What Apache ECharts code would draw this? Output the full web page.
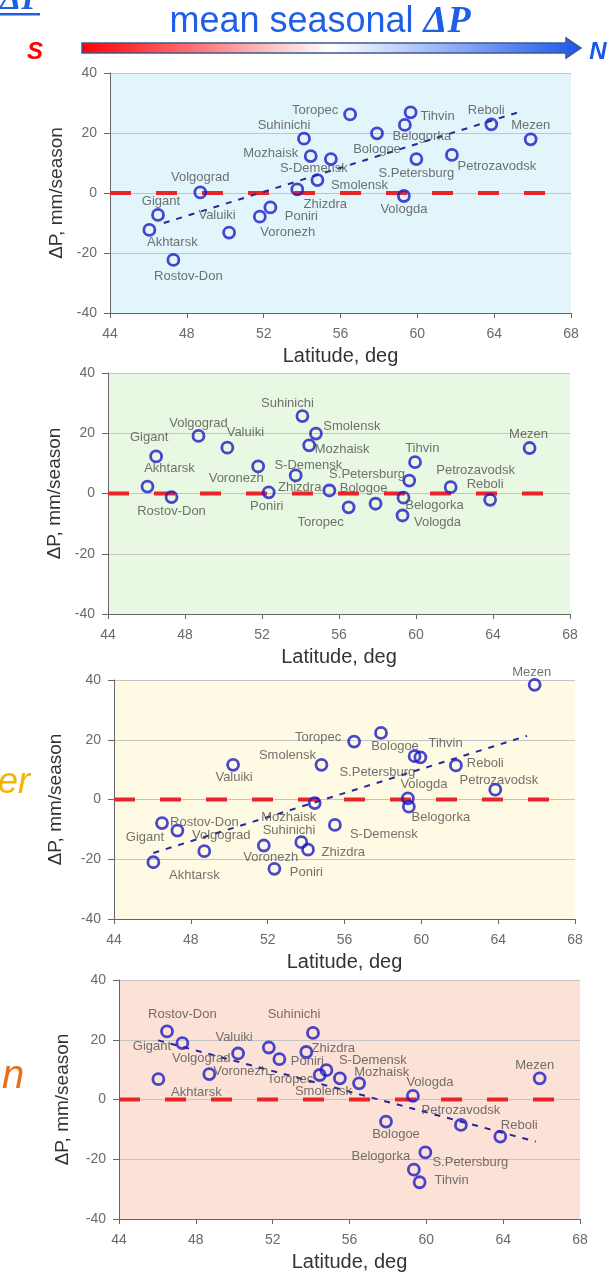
<!DOCTYPE html>
<html><head><meta charset="utf-8">
<script src="https://cdn.jsdelivr.net/npm/echarts@6/dist/echarts.min.js"></script>
<style>html,body{margin:0;padding:0;background:#fff}#c{width:612px;height:1274px}</style>
</head><body><div id="c"></div>
<script>
// ---- data ----
const stations = ['Akhtarsk','Gigant','Rostov-Don','Volgograd','Valuiki','Voronezh','Poniri','Zhizdra','Suhinichi','Mozhaisk','Smolensk','S-Demensk','Toropec','Bologoe','Vologda','Belogorka','Tihvin','S.Petersburg','Petrozavodsk','Reboli','Mezen'];
const latitude = [46.05,46.5,47.3,48.7,50.2,51.8,52.35,53.75,54.1,54.45,54.8,55.5,56.5,57.9,59.3,59.35,59.65,59.95,61.8,63.85,65.9];
const dpPanel1 = [-12.3,-7.3,-22.3,0.2,-13.2,-7.9,-4.8,1.2,18.1,12.3,4.3,11.3,26.2,19.9,-1.0,22.7,26.9,11.3,12.7,22.9,17.9];
const dpPanel2 = [2.3,12.3,-1.2,19.1,15.2,9.0,0.4,6.0,25.7,16.0,19.9,1.0,-4.6,-3.4,-7.3,-1.4,4.3,10.4,2.1,-2.1,15.1];
const dpPanel3 = [-21.0,-7.9,-10.4,-17.3,11.6,-15.4,-23.2,-14.3,-16.8,-1.2,11.6,-8.5,19.4,22.3,0.4,-2.4,14.5,14.1,11.4,3.3,38.4];
const dpPanel4 = [6.8,22.8,18.9,8.5,15.4,17.4,13.5,15.9,22.3,8.2,9.8,7.1,5.4,-7.4,1.2,-23.5,-27.7,-17.7,-8.5,-12.4,7.1];
const trend1 = [[46.8,-10.0],[65.35,27.1]];
const trend3 = [[46.05,-17.9],[65.5,21.3]];
const trend4 = [[46.04,19.8],[65.7,-14.1]];
const zeroLine = [[44,0],[67.6,0]];
const xTicks = {min:44, max:68, step:4};
const yTicks = {min:-40, max:40, step:20};

// ---- label placement (style only) ----
const labelOffsets = [
  [[23,13],[3,-13],[15,17],[0,-15],[-12,-17],[28,16],[31,9],[28,15],[-20,-13],[-40,-3],[42,5],[-17,9],[-35,-4],[0,16],[0,13],[17,12],[27,4],[0,14],[45,12],[-5,-14],[0,-14]],
  [[22,-18],[-7,-19],[0,14],[0,-13],[18,-15],[-22,12],[-2,14],[4,12],[-15,-13],[33,4],[36,-7],[-21,-25],[-28,15],[-12,-15],[35,7],[31,8],[13,-32],[-48,12],[25,-17],[-5,-15],[-1,-14]],
  [[41,13],[-17,14],[27,-8],[17,-16],[1,13],[7,12],[32,4],[42,10],[-19,-19],[-26,14],[-34,-9],[49,10],[-36,-4],[14,14],[16,-14],[32,11],[31,-13],[-43,15],[43,15],[-10,-26],[-3,-12]],
  [[38,13],[-15,15],[0,-29],[-8,-16],[-4,-16],[-28,24],[28,2],[27,-4],[-19,-18],[62,-3],[-3,21],[33,-18],[-69,-4],[10,13],[17,-13],[-33,-13],[32,-2],[45,10],[0,-14],[19,-11],[-5,-13]]
];
const panels = [
  {vals: dpPanel1, trend: trend1, bg:'#e2f5fb', grid:{left:110,right:41,top:73,height:240}, yGap:42},
  {vals: dpPanel2, trend: null,   bg:'#e9f8e2', grid:{left:108,right:42,top:373,height:241}, yGap:42},
  {vals: dpPanel3, trend: trend3, bg:'#fefae3', grid:{left:114,right:37,top:680,height:239}, yGap:49},
  {vals: dpPanel4, trend: trend4, bg:'#fce2d6', grid:{left:119,right:32,top:980,height:239}, yGap:47}
];

const FF = '"Liberation Sans", Arial, sans-serif';
const grids = [], xAxes = [], yAxes = [], series = [];
panels.forEach((p, i) => {
  grids.push(Object.assign({show:true, backgroundColor:p.bg, borderWidth:0}, p.grid));
  xAxes.push({
    gridIndex:i, type:'value', min:xTicks.min, max:xTicks.max, interval:xTicks.step,
    axisLine:{show:true, onZero:false, lineStyle:{color:'#666', width:1}},
    axisTick:{show:true, length:5, lineStyle:{color:'#666'}},
    axisLabel:{color:'#6a6a6a', fontSize:14, margin:14, fontFamily:FF},
    splitLine:{show:false},
    name:'Latitude, deg', nameLocation:'middle', nameGap:33,
    nameTextStyle:{fontSize:20, color:'#333', fontFamily:FF}
  });
  yAxes.push({
    gridIndex:i, type:'value', min:yTicks.min, max:yTicks.max, interval:yTicks.step,
    axisLine:{show:true, lineStyle:{color:'#666', width:1}},
    axisTick:{show:true, length:6, lineStyle:{color:'#666'}},
    axisLabel:{color:'#6a6a6a', fontSize:14, margin:13, fontFamily:FF},
    splitLine:{show:true, lineStyle:{color:'#c4c4c4', width:1}},
    name:'ΔP, mm/season', nameLocation:'middle', nameGap:p.yGap,
    nameTextStyle:{fontSize:19, color:'#333', fontFamily:FF}
  });
  series.push({
    type:'line', xAxisIndex:i, yAxisIndex:i, data:zeroLine, symbol:'none', silent:true,
    lineStyle:{color:'#e8262a', width:4, type:[21,25]}, z:2
  });
  if (p.trend) {
    series.push({
      type:'line', xAxisIndex:i, yAxisIndex:i, data:p.trend, symbol:'none', silent:true,
      lineStyle:{color:'#28289a', width:2, type:[6,7]}, z:3
    });
  }
  series.push({
    type:'scatter', xAxisIndex:i, yAxisIndex:i, symbol:'circle', symbolSize:11, z:4,
    itemStyle:{color:'rgba(0,0,0,0)', borderColor:'#1c1cc4', borderWidth:2.8},
    label:{show:true, position:'inside', color:'#4f4f4f', fontSize:13, fontFamily:FF,
           align:'center', verticalAlign:'middle'},
    data: stations.map((s, k) => ({
      name:s, value:[latitude[k], p.vals[k]],
      label:{formatter:s, offset:labelOffsets[i][k]}
    }))
  });
});

const chart = echarts.init(document.getElementById('c'), null, {renderer:'canvas'});
chart.setOption({
  animation:false,
  backgroundColor:'#ffffff',
  textStyle:{fontFamily:FF},
  grid:grids, xAxis:xAxes, yAxis:yAxes, series:series,
  graphic:[
    {type:'text', left:0, top:-17, style:{text:'ΔP', font:'bold italic 34px "Liberation Serif", serif', fill:'#1f5fe6'}},
    {type:'rect', shape:{x:0, y:13, width:40, height:2.5}, style:{fill:'#1f5fe6'}},
    {type:'text', x:320, y:22, style:{
      text:'{a|mean seasonal }{b|ΔP}', align:'center', verticalAlign:'middle',
      rich:{a:{font:'36px "Liberation Sans", Arial, sans-serif', fill:'#1f5fe6'},
            b:{font:'bold italic 38px "Liberation Serif", serif', fill:'#1f5fe6'}}}},
    {type:'polygon', shape:{points:[[82,43],[566,43],[566,38],[581,48],[566,58],[566,53],[82,53]]},
     style:{fill:new echarts.graphic.LinearGradient(0,0,1,0,[{offset:0,color:'#ff0000'},{offset:0.5,color:'#ffffff'},{offset:1,color:'#1a56e8'}]),
            stroke:'#3d5a94', lineWidth:1.5}},
    {type:'text', x:35, y:52, style:{text:'S', align:'center', verticalAlign:'middle', font:'bold italic 24px "Liberation Sans", Arial, sans-serif', fill:'#ff0000'}},
    {type:'text', x:598, y:52, style:{text:'N', align:'center', verticalAlign:'middle', font:'bold italic 24px "Liberation Sans", Arial, sans-serif', fill:'#1a56e8'}},
    {type:'text', x:-2, y:783, style:{text:'er', align:'left', verticalAlign:'middle', font:'italic 36px "Liberation Sans", Arial, sans-serif', fill:'#f5b400'}},
    {type:'text', x:2, y:1077, style:{text:'n', align:'left', verticalAlign:'middle', font:'italic 40px "Liberation Sans", Arial, sans-serif', fill:'#e8701a'}}
  ]
});
</script></body></html>
